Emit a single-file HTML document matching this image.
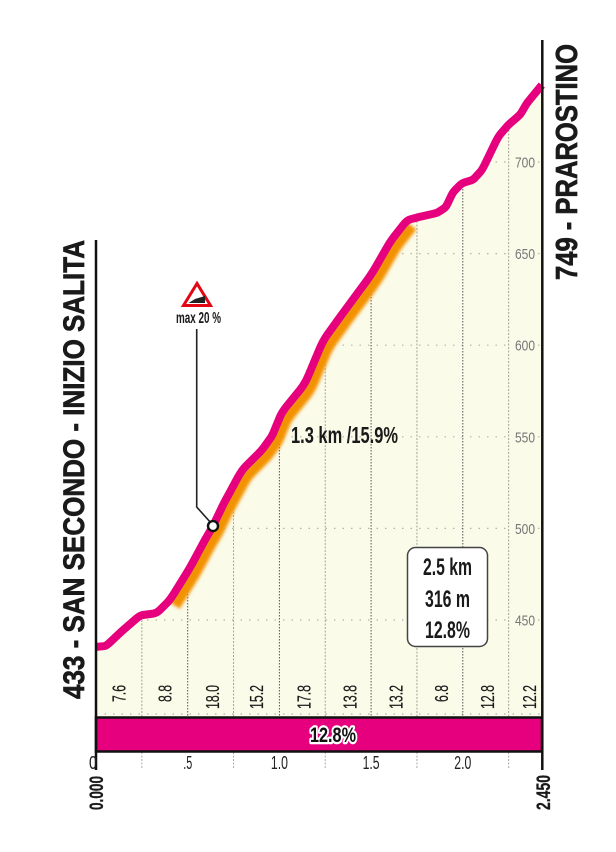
<!DOCTYPE html>
<html lang="it">
<head>
<meta charset="utf-8">
<title>Profilo altimetrico</title>
<style>
html,body{margin:0;padding:0;background:#fff;width:616px;height:852px;overflow:hidden}
svg{display:block;font-family:"Liberation Sans",sans-serif}
</style>
</head>
<body>
<svg id="chart" width="616" height="852" viewBox="0 0 616 852" xmlns="http://www.w3.org/2000/svg">
  <defs>
    <clipPath id="area-clip"><path id="area-clip-path" d=""></path></clipPath>
    <filter id="soft" x="-20%" y="-20%" width="140%" height="140%"><feGaussianBlur stdDeviation="1.6"></feGaussianBlur></filter>
  </defs>
  <rect x="0" y="0" width="616" height="852" fill="#fff"></rect>
  <path id="area" fill="#fafbe9" d=""></path>
  <g id="grid"></g>
  <g id="outer-ticks"></g>
  <path id="steep" fill="none" stroke="#f39200" stroke-width="11" stroke-linejoin="round" filter="url(#soft)" d=""></path>
  <path id="line" fill="none" stroke="#e6007e" stroke-width="8" stroke-linejoin="round" d=""></path>
  <g id="y-labels"></g>
  <g id="grade-labels"></g>

  <rect id="bar" x="96" y="717.5" width="446" height="34" fill="#e6007e" stroke="#111" stroke-width="2.5"></rect>
  <text x="333" y="742" text-anchor="middle" font-size="21" font-weight="700" fill="#111" stroke="#fff" stroke-width="4.5" paint-order="stroke" stroke-linejoin="round" textLength="46" lengthAdjust="spacingAndGlyphs">12.8%</text>

  <line x1="96" y1="240" x2="96" y2="770" stroke="#111" stroke-width="2.5"></line>
  <line x1="542.3" y1="40" x2="542.3" y2="770" stroke="#111" stroke-width="2.5"></line>

  <g id="x-labels"></g>

  <text transform="translate(103 810) rotate(-90)" font-size="19" font-weight="700" fill="#1a1a1a" stroke="#1a1a1a" stroke-width="0.3" textLength="34" lengthAdjust="spacingAndGlyphs">0.000</text>
  <text transform="translate(550 810) rotate(-90)" font-size="19" font-weight="700" fill="#1a1a1a" stroke="#1a1a1a" stroke-width="0.3" textLength="35" lengthAdjust="spacingAndGlyphs">2.450</text>

  <text transform="translate(84 699) rotate(-90)" font-size="29.5" font-weight="700" fill="#1a1a1a" stroke="#1a1a1a" stroke-width="0.7" textLength="459" lengthAdjust="spacingAndGlyphs">433 - SAN SECONDO - INIZIO SALITA</text>
  <text transform="translate(577 280) rotate(-90)" font-size="30.5" font-weight="700" fill="#1a1a1a" stroke="#1a1a1a" stroke-width="0.7" textLength="236" lengthAdjust="spacingAndGlyphs">749 - PRAROSTINO</text>

  <text x="291" y="443" font-size="23" font-weight="700" fill="#1a1a1a" textLength="107" lengthAdjust="spacingAndGlyphs">1.3 km /15.9%</text>

  <g>
    <rect x="407.5" y="547.5" width="80" height="99" rx="8" fill="#fff" stroke="#444" stroke-width="1.5"></rect>
    <text x="447.5" y="575" text-anchor="middle" font-size="24" font-weight="700" fill="#1a1a1a" textLength="49" lengthAdjust="spacingAndGlyphs">2.5 km</text>
    <text x="447.5" y="607" text-anchor="middle" font-size="24" font-weight="700" fill="#1a1a1a" textLength="45" lengthAdjust="spacingAndGlyphs">316 m</text>
    <text x="447.5" y="638" text-anchor="middle" font-size="24" font-weight="700" fill="#1a1a1a" textLength="45" lengthAdjust="spacingAndGlyphs">12.8%</text>
  </g>

  <g>
    <polygon points="197,283.5 183.5,305.5 210.5,305.5" fill="#fff" stroke="#e30613" stroke-width="3" stroke-linejoin="miter"></polygon>
    <polygon points="188.5,303 205,303 205,296 195,299" fill="#222"></polygon>
    <text x="176" y="323" font-size="16" font-weight="700" fill="#1a1a1a" textLength="45" lengthAdjust="spacingAndGlyphs">max 20 %</text>
  </g>
  <path id="callout" fill="none" stroke="#222" stroke-width="1.6" d=""></path>
  <circle id="marker" r="5" fill="#fff" stroke="#111" stroke-width="2.4"></circle>
</svg>
<script>
// Chart data
const distanceKm = [0,0.055,0.142,0.240,0.332,0.404,0.512,0.594,0.638,0.698,0.796,0.905,0.960,1.014,1.139,1.237,1.342,1.504,1.603,1.696,1.783,1.860,1.908,1.947,1.996,2.055,2.105,2.192,2.247,2.312,2.350,2.431];
const elevationM = [435.3,435.8,444,452.5,453.8,461,478.4,493.7,501.3,513.9,531.9,542.8,550.4,563.5,578.8,602.3,617,638.9,656.3,668.3,670.5,672.2,675.4,683.6,688.5,690.2,695.6,713.6,720.2,725.7,732.2,742];
const gradeValues = ["7.6","8.8","18.0","15.2","17.8","13.8","13.2","6.8","12.8","12.2"];
const gradeKm = [0.125,0.375,0.635,0.875,1.135,1.385,1.635,1.885,2.135,2.365];
const elevationTicks = [450,500,550,600,650,700];
const distanceTickLabels = ["0",".5","1.0","1.5","2.0"];
const distanceTickKm = [0,0.5,1,1.5,2];
const gridKm = [0.25,0.5,0.75,1,1.25,1.5,1.75,2,2.25];
const steepStartKm = 0.39;
const steepEndKm = 1.72;
const maxGradeKm = 0.638;
const maxGradeElev = 501.3;

// Axis functions
const xScale = km => 96 + km * 183.4;
const yScale = m => 620 - (m - 450) * 1.832;
const SVGNS = 'http://www.w3.org/2000/svg';
const baseY = 717;
const rightX = 542.3;

// Straight segments with slightly rounded corners
function roundedPath(points) {
  const t = 0.22;
  const f = n => n.toFixed(1);
  let d = 'M' + f(points[0][0]) + ' ' + f(points[0][1]);
  for (let i = 1; i < points.length - 1; i++) {
    const p = points[i], a = points[i - 1], b = points[i + 1];
    d += ' L' + f(p[0] + (a[0] - p[0]) * t) + ' ' + f(p[1] + (a[1] - p[1]) * t);
    d += ' Q' + f(p[0]) + ' ' + f(p[1]) + ' ' + f(p[0] + (b[0] - p[0]) * t) + ' ' + f(p[1] + (b[1] - p[1]) * t);
  }
  const last = points[points.length - 1];
  return d + ' L' + f(last[0]) + ' ' + f(last[1]);
}

const linePoints = distanceKm.map((d, i) => [xScale(d), yScale(elevationM[i])]);
const linePath = roundedPath(linePoints);
document.getElementById('line').setAttribute('d', linePath);
const areaPath = linePath + ' L' + xScale(distanceKm[distanceKm.length - 1]).toFixed(1) + ' ' + baseY + ' L' + xScale(distanceKm[0]) + ' ' + baseY + ' Z';
document.getElementById('area').setAttribute('d', areaPath);
document.getElementById('area-clip-path').setAttribute('d', areaPath);

// Steep section, offset below the line
const steepPoints = [];
distanceKm.forEach((d, i) => {
  if (d >= steepStartKm && d <= steepEndKm) {
    steepPoints.push([xScale(d) + 5, yScale(elevationM[i]) + 6]);
  }
});
document.getElementById('steep').setAttribute('d', roundedPath(steepPoints));

// Grid lines
const grid = document.getElementById('grid');
grid.setAttribute('clip-path', 'url(#area-clip)');
elevationTicks.forEach(t => {
  const l = document.createElementNS(SVGNS, 'line');
  
  
  l.setAttribute('x1', 96);
  l.setAttribute('x2', rightX);
  l.setAttribute('y1', yScale(t));
  l.setAttribute('y2', yScale(t));
  l.setAttribute('stroke', '#b4b4a4');
  l.setAttribute('stroke-width', '1.2');
  l.setAttribute('stroke-dasharray', '1.5 7');
  grid.appendChild(l);
});
const baseGrid = document.createElementNS(SVGNS, 'line');


baseGrid.setAttribute('x1', 96);
baseGrid.setAttribute('x2', rightX);
baseGrid.setAttribute('y1', 714);
baseGrid.setAttribute('y2', 714);
baseGrid.setAttribute('stroke', '#b4b4a4');
baseGrid.setAttribute('stroke-width', '1.2');
baseGrid.setAttribute('stroke-dasharray', '1.5 7');
grid.appendChild(baseGrid);
gridKm.forEach((km, i) => {
  const major = i % 2 === 1;
  const l = document.createElementNS(SVGNS, 'line');
  
  
  l.setAttribute('x1', xScale(km));
  l.setAttribute('x2', xScale(km));
  l.setAttribute('y1', 60);
  l.setAttribute('y2', baseY);
  l.setAttribute('stroke', major ? '#555' : '#a5a59a');
  l.setAttribute('stroke-width', '1');
  l.setAttribute('stroke-dasharray', major ? '1.5 1.5' : '2 1.5');
  grid.appendChild(l);
});

// Ticks under the bar
const outerTicks = document.getElementById('outer-ticks');
gridKm.forEach((km, i) => {
  if (i % 2 === 1) return;
  const l = document.createElementNS(SVGNS, 'line');
  
  
  l.setAttribute('x1', xScale(km));
  l.setAttribute('x2', xScale(km));
  l.setAttribute('y1', 752);
  l.setAttribute('y2', 768);
  l.setAttribute('stroke', '#aaa');
  l.setAttribute('stroke-dasharray', '2 1.5');
  outerTicks.appendChild(l);
});

// Elevation labels
const yLabels = document.getElementById('y-labels');
elevationTicks.forEach(t => {
  const bg = document.createElementNS(SVGNS, 'rect');
  
  
  bg.setAttribute('x', 512);
  bg.setAttribute('y', yScale(t) - 7);
  bg.setAttribute('width', 26);
  bg.setAttribute('height', 14);
  bg.setAttribute('fill', '#fafbe9');
  yLabels.appendChild(bg);
  const s = document.createElementNS(SVGNS, 'text');
  
  
  s.setAttribute('x', 525);
  s.setAttribute('y', yScale(t) + 5.5);
  s.setAttribute('text-anchor', 'middle');
  s.setAttribute('font-size', '15');
  s.setAttribute('fill', '#777');
  s.setAttribute('textLength', '20');
  s.setAttribute('lengthAdjust', 'spacingAndGlyphs');
  s.textContent = String(t);
  yLabels.appendChild(s);
});

// Gradient labels
const gradeLabels = document.getElementById('grade-labels');
gradeValues.forEach((v, i) => {
  const s = document.createElementNS(SVGNS, 'text');
  
  
  s.setAttribute('transform', 'translate(' + (xScale(gradeKm[i]) + 6.5).toFixed(1) + ' 685) rotate(-90)');
  s.setAttribute('text-anchor', 'end');
  s.setAttribute('font-size', '18');
  s.setAttribute('fill', '#1a1a1a');
  s.setAttribute('stroke', '#1a1a1a');
  s.setAttribute('stroke-width', '0.2');
  s.setAttribute('textLength', v.length === 3 ? '17' : '24');
  s.setAttribute('lengthAdjust', 'spacingAndGlyphs');
  s.textContent = v;
  gradeLabels.appendChild(s);
});

// Distance labels
const xLabels = document.getElementById('x-labels');
distanceTickLabels.forEach((v, i) => {
  const s = document.createElementNS(SVGNS, 'text');
  
  
  s.setAttribute('x', xScale(distanceTickKm[i]) - (i === 0 ? 3 : 0));
  s.setAttribute('y', 769);
  s.setAttribute('text-anchor', 'middle');
  s.setAttribute('font-size', '18');
  s.setAttribute('fill', '#222');
  s.setAttribute('textLength', v.length === 3 ? '17' : (v.length === 2 ? '9' : '8'));
  s.setAttribute('lengthAdjust', 'spacingAndGlyphs');
  s.textContent = v;
  xLabels.appendChild(s);
});

// Max gradient marker and callout
const mx = xScale(maxGradeKm);
const my = yScale(maxGradeElev);
const marker = document.getElementById('marker');
marker.setAttribute('cx', mx);
marker.setAttribute('cy', my);
document.getElementById('callout').setAttribute('d', 'M' + (mx - 16.3) + ' 329 L' + (mx - 16.3) + ' ' + (my - 19) + ' L' + (mx - 2) + ' ' + (my - 3));
</script>
</body>
</html>
